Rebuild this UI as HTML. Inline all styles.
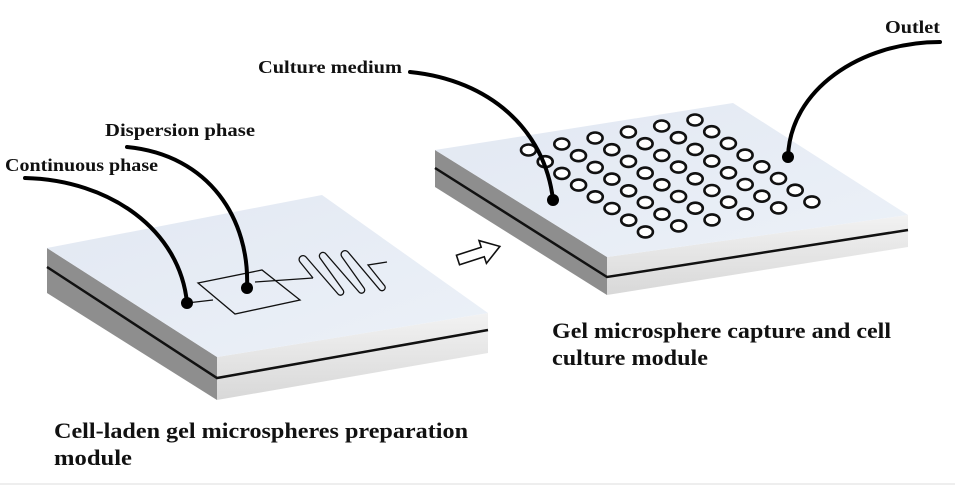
<!DOCTYPE html>
<html><head><meta charset="utf-8"><style>
html,body{margin:0;padding:0;background:#fff}
svg{display:block}
text{font-family:"Liberation Serif",serif;font-weight:bold;fill:#111}
</style></head><body>
<svg width="955" height="485" viewBox="0 0 955 485" xmlns="http://www.w3.org/2000/svg">
<defs>
<linearGradient id="side" x1="0" y1="0" x2="0" y2="1"><stop offset="0" stop-color="#f2f2f2"/><stop offset="1" stop-color="#d8d8d8"/></linearGradient>
<linearGradient id="top" x1="0" y1="0" x2="1" y2="1"><stop offset="0" stop-color="#e2e8f2"/><stop offset="1" stop-color="#ecf1f8"/></linearGradient>
</defs>
<rect x="0" y="483" width="955" height="2" fill="#eee"/>

<!-- left chip -->
<polygon points="47,248 217,357 217,400 47,293" fill="#8e8e8e"/>
<polygon points="217,357 488,313 488,353 217,400" fill="url(#side)"/>
<polygon points="47,248 322,195 488,313 217,357" fill="url(#top)"/>
<polyline points="47,267 217,378 488,330" fill="none" stroke="#111" stroke-width="2.5"/>

<!-- channel -->
<g fill="none" stroke="#111" stroke-width="1.3">
<polygon points="198,283 262,270 300,300 235,314"/>
<line x1="187" y1="303" x2="213" y2="300"/>
<line x1="255" y1="282" x2="313" y2="278"/>
<path d="M313,278 L300,262 A3,3 0 0 1 306,257 L338,294 A3,3 0 0 0 343,290 L320,258 A3,3 0 0 1 326,254 L359,292 A3,3 0 0 0 364,288 L342,257 A3,3 0 0 1 348,252 L380,290 A3,3 0 0 0 384,285 L368,265 L387,262"/>
</g>

<!-- right chip -->
<polygon points="435,150 607,257 607,295 435,187" fill="#8e8e8e"/>
<polygon points="607,257 908,215 908,247 607,295" fill="url(#side)"/>
<polygon points="435,150 733,103 908,215 607,257" fill="url(#top)"/>
<polyline points="435,168 607,277 908,230" fill="none" stroke="#111" stroke-width="2.5"/>

<g fill="#fff" stroke="#111" stroke-width="2.6" id="circles">
</g>

<!-- leader lines -->
<g fill="none" stroke="#000" stroke-width="4" stroke-linecap="round">
<path d="M25,178 C110,180 180,230 187,303"/>
<path d="M127,147 C210,155 250,220 247,288"/>
<path d="M410,72 C490,80 545,130 553,200"/>
<path d="M940,42 C860,42 790,90 788,157"/>
</g>
<g fill="#000">
<circle cx="187" cy="303" r="6"/><circle cx="247" cy="288" r="6"/>
<circle cx="553" cy="200" r="6"/><circle cx="788" cy="157" r="6"/>
</g>

<!-- arrow -->
<g transform="translate(458,260) rotate(-18)">
<polygon points="0,-5 26,-5 26,-12 44,0 26,12 26,5 0,5" fill="#fff" stroke="#111" stroke-width="1.6"/>
</g>

<text x="5" y="171" font-size="18" textLength="153" lengthAdjust="spacingAndGlyphs">Continuous phase</text>
<text x="105" y="136" font-size="18" textLength="150" lengthAdjust="spacingAndGlyphs">Dispersion phase</text>
<text x="258" y="73" font-size="18" textLength="144" lengthAdjust="spacingAndGlyphs">Culture medium</text>
<text x="885" y="33" font-size="18" textLength="55" lengthAdjust="spacingAndGlyphs">Outlet</text>
<text x="552" y="338" font-size="22" textLength="339" lengthAdjust="spacingAndGlyphs">Gel microsphere capture and cell</text>
<text x="552" y="365" font-size="22" textLength="156" lengthAdjust="spacingAndGlyphs">culture module</text>
<text x="54" y="438" font-size="22" textLength="414" lengthAdjust="spacingAndGlyphs">Cell-laden gel microspheres preparation</text>
<text x="54" y="465" font-size="22" textLength="78" lengthAdjust="spacingAndGlyphs">module</text>
</svg>
<script>
var g=document.getElementById('circles'),s='';
for(var i=0;i<8;i++)for(var j=0;j<6;j++){
var x=695+i*16.7-j*33.3,y=120+i*11.7+j*6;
s+='<ellipse cx="'+x+'" cy="'+y+'" rx="7.5" ry="5.5"/>';}
g.innerHTML=s;
</script>
</body></html>
